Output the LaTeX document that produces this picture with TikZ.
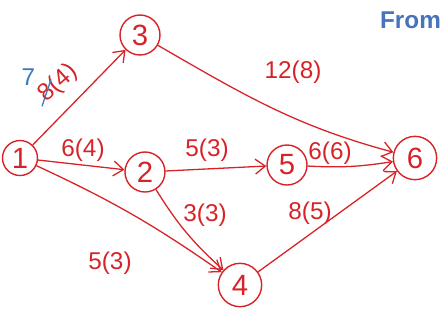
\documentclass[tikz,border=0pt]{standalone}
\usepackage{fontspec}
\setsansfont{Liberation Sans}
\usetikzlibrary{arrows.meta}

\definecolor{inkred}{RGB}{215,35,40}
\definecolor{inkblue}{RGB}{60,120,190}
\definecolor{titleblue}{RGB}{70,115,185}

\begin{document}
\begin{tikzpicture}[
  vtx/.style={draw=inkred, circle, line width=1.2pt, minimum size=1.2cm, inner sep=0pt, text=inkred, font=\sffamily\fontsize{25}{27}\selectfont},
  arr/.style={-{Straight Barb[length=3mm, width=4.5mm]}, draw=inkred, line width=1.1pt},
  wt/.style={text=inkred, font=\sffamily\huge, inner sep=1pt}
]
  \useasboundingbox (0,0) rectangle (13.29,-9.63);

  % vertices
  \node[vtx, minimum size=1.05cm] (v1) at (0.6,-4.74) {1};
  \node[vtx] (v3) at (4.2,-1.05) {3};
  \node[vtx] (v2) at (4.35,-5.16) {2};
  \node[vtx] (v5) at (8.61,-4.95) {5};
  \node[vtx, minimum size=1.3cm] (v6) at (12.45,-4.74) {6};
  \node[vtx, minimum size=1.3cm] (v4) at (7.2,-8.55) {4};

  % edges
  \draw[arr] (v1) -- (v3);
  \draw[arr] (v1) -- (v2);
  \draw[arr] (v1) to[bend left=5] (v4);
  \draw[arr] (v3) to[out=-30, in=165] (v6);
  \draw[arr] (v2) -- (v5);
  \draw[arr] (v2) to[bend right=8] (v4);
  \draw[arr] (v5) to[bend right=6] (v6);
  \draw[arr] (v4) -- (v6);

  % weights
  \node[wt, rotate=42] (w13) at (1.74,-2.5) {8(4)};
  \node[wt] (w12) at (2.49,-4.5) {6(4)};
  \node[wt] (w25) at (6.21,-4.5) {5(3)};
  \node[wt] (w36) at (8.79,-2.16) {12(8)};
  \node[wt] (w56) at (9.9,-4.6) {6(6)};
  \node[wt] (w24) at (6.15,-6.45) {3(3)};
  \node[wt] (w46) at (9.3,-6.39) {8(5)};
  \node[wt] (w14) at (3.3,-7.89) {5(3)};

  % correction
  \node[text=inkblue, font=\sffamily\huge] (fix) at (0.85,-2.3) {7};
  \draw[inkblue, line width=1.1pt] ([shift={(-0.48,-0.69)}]w13.center) -- ([shift={(-0.21,0.12)}]w13.center);

  \node[anchor=east, text=titleblue, font=\sffamily\bfseries\huge] (title) at (13.35,-0.62) {From};
\end{tikzpicture}
\end{document}
